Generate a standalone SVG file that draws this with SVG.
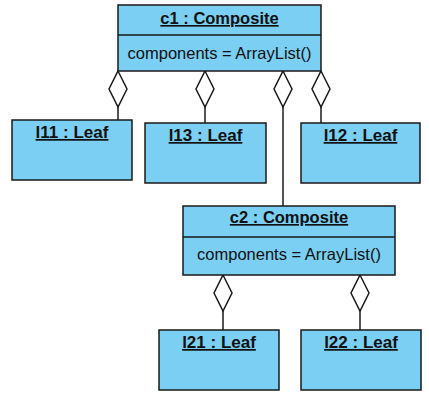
<svg xmlns="http://www.w3.org/2000/svg" width="429" height="402" viewBox="0 0 429 402">
<style>
.box{fill:#7acff2;stroke:#1a1a1a;stroke-width:1.5}
.ln{fill:none;stroke:#1a1a1a;stroke-width:1.5}
.dia{fill:#ffffff;stroke:#1a1a1a;stroke-width:1.5}
.t{font-family:"Liberation Sans",Arial,sans-serif;font-size:16.5px;fill:#111;text-anchor:middle}
.b{font-weight:bold;text-decoration:underline}
.lf{font-size:17px}
</style>
<rect width="429" height="402" fill="#ffffff"/>
<g id="connectors">
<line class="ln" x1="118" y1="107" x2="118" y2="120"/>
<polygon class="dia" points="118,71 127,89 118,107 109,89"/>
<line class="ln" x1="205" y1="107" x2="205" y2="123"/>
<polygon class="dia" points="205,71 214,89 205,107 196,89"/>
<line class="ln" x1="283" y1="107" x2="283" y2="206"/>
<polygon class="dia" points="283,71 292,89 283,107 274,89"/>
<line class="ln" x1="321" y1="107" x2="321" y2="123"/>
<polygon class="dia" points="321,71 330,89 321,107 312,89"/>
<line class="ln" x1="223" y1="311" x2="223" y2="330"/>
<polygon class="dia" points="223,275 232,293 223,311 214,293"/>
<line class="ln" x1="360" y1="311" x2="360" y2="330"/>
<polygon class="dia" points="360,275 369,293 360,311 351,293"/>
</g>
<g id="c1">
<rect class="box" x="118" y="5" width="203" height="66"/>
<line class="ln" x1="118" y1="35" x2="321" y2="35"/>
<text class="t b" x="219.5" y="24">c1 : Composite</text>
<text class="t" x="219.5" y="59">components = ArrayList()</text>
</g>
<g id="l11">
<rect class="box" x="12" y="120" width="120" height="60"/>
<text class="t b lf" x="72" y="138">l11 : Leaf</text>
</g>
<g id="l13">
<rect class="box" x="145" y="123" width="121" height="60"/>
<text class="t b lf" x="205.5" y="141">l13 : Leaf</text>
</g>
<g id="l12">
<rect class="box" x="301" y="123" width="119" height="60"/>
<text class="t b lf" x="360.5" y="141">l12 : Leaf</text>
</g>
<g id="c2">
<rect class="box" x="183" y="206" width="212" height="69"/>
<line class="ln" x1="183" y1="237" x2="395" y2="237"/>
<text class="t b" x="289" y="223">c2 : Composite</text>
<text class="t" x="289" y="260">components = ArrayList()</text>
</g>
<g id="l21">
<rect class="box" x="159" y="330" width="120" height="60"/>
<text class="t b lf" x="219" y="348">l21 : Leaf</text>
</g>
<g id="l22">
<rect class="box" x="301" y="330" width="120" height="60"/>
<text class="t b lf" x="361" y="348">l22 : Leaf</text>
</g>
</svg>
